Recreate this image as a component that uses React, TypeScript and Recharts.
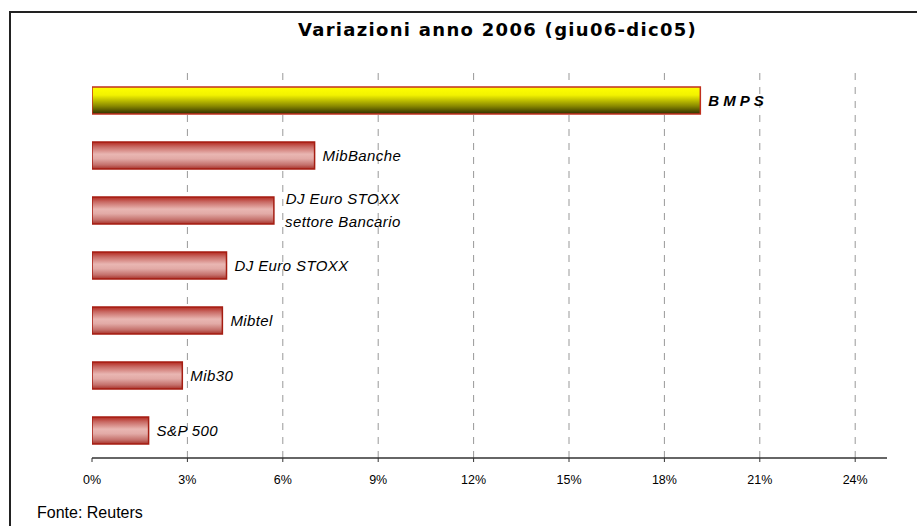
import React from 'react';
import { BarChart, Bar, XAxis, YAxis, CartesianGrid, Cell, LabelList } from 'recharts';

const names = [
  'BMPS',
  'MibBanche',
  'DJ Euro STOXX settore Bancario',
  'DJ Euro STOXX',
  'Mibtel',
  'Mib30',
  'S&P 500',
];
const values = [19.13, 7.0, 5.72, 4.23, 4.1, 2.84, 1.78];
const ticks = [0, 3, 6, 9, 12, 15, 18, 21, 24];

const data = names.map((name, i) => ({ name, value: values[i] }));

const FONT = '"Liberation Sans", Arial, sans-serif';

const BarLabel = (props: any) => {
  const { x, y, width, height, value } = props;
  const lx = Number(x) + Number(width) + 8;
  const cy = Number(y) + Number(height) / 2;
  if (value === 'BMPS') {
    return (
      <text x={lx} y={cy} dy="0.35em" fontFamily={FONT} fontSize={15} fontStyle="italic"
        fontWeight="bold" letterSpacing={4} fill="#000">
        {value}
      </text>
    );
  }
  if (value === 'DJ Euro STOXX settore Bancario') {
    const mid = lx + 61;
    return (
      <text x={mid} y={cy} fontFamily={FONT} fontSize={15} fontStyle="italic" fill="#000"
        textAnchor="middle" letterSpacing={0.4}>
        <tspan x={mid} y={cy - 11.5} dy="0.35em">DJ Euro STOXX</tspan>
        <tspan x={mid} y={cy + 11.5} dy="0.35em">settore Bancario</tspan>
      </text>
    );
  }
  return (
    <text x={lx} y={cy} dy="0.35em" fontFamily={FONT} fontSize={15} fontStyle="italic"
      letterSpacing={0.4} fill="#000">
      {value}
    </text>
  );
};

const App: React.FC = () => {
  return (
    <div style={{ position: 'absolute', left: 0, top: 0, width: 917, height: 526, overflow: 'hidden', background: '#fff' }}>
      <div style={{ position: 'absolute', left: 9, top: 11, width: 1000, height: 1000, borderLeft: '2px solid #222', borderTop: '2px solid #222' }} />
      <div style={{ position: 'absolute', left: 298, top: 19, fontFamily: '"DejaVu Sans", Verdana, sans-serif', fontWeight: 'bold', fontSize: 18, letterSpacing: 1.3, whiteSpace: 'nowrap', color: '#000' }}>
        Variazioni anno 2006 (giu06-dic05)
      </div>
      <div style={{ position: 'absolute', left: 37, top: 504, fontFamily: FONT, fontSize: 16, lineHeight: '18px', whiteSpace: 'nowrap', color: '#000' }}>
        Fonte: Reuters
      </div>
      <div style={{ position: 'absolute', left: 0, top: 0 }}>
        <BarChart width={917} height={526} data={data} layout="vertical"
          margin={{ top: 73, right: 30, left: 92, bottom: 38 }}>
          <defs>
            <linearGradient id="gYellow" x1="0" y1="0" x2="0" y2="1">
              <stop offset="0%" stopColor="#ffff00" />
              <stop offset="30%" stopColor="#f2f200" />
              <stop offset="70%" stopColor="#8a8a00" />
              <stop offset="100%" stopColor="#2e2e00" />
            </linearGradient>
            <linearGradient id="gRed" x1="0" y1="0" x2="0" y2="1">
              <stop offset="0%" stopColor="#b3281e" />
              <stop offset="18%" stopColor="#c96a64" />
              <stop offset="45%" stopColor="#e9b6b2" />
              <stop offset="62%" stopColor="#e2aaa6" />
              <stop offset="85%" stopColor="#c4706b" />
              <stop offset="100%" stopColor="#a83028" />
            </linearGradient>
          </defs>
          <CartesianGrid horizontal={false} stroke="#999" strokeDasharray="7 7"
            verticalValues={ticks.slice(1)} />
          <XAxis type="number" domain={[0, 25]} ticks={ticks} allowDataOverflow
            tickFormatter={(v) => `${v}%`} height={30}
            axisLine={{ stroke: '#333', strokeWidth: 1.5 }}
            tickLine={{ stroke: '#333' }} tickSize={4} tickMargin={13}
            tick={{ fontFamily: FONT, fontSize: 12.5, fill: '#000' }} />
          <YAxis type="category" dataKey="name" width={0} tick={false} tickLine={false}
            axisLine={{ stroke: '#666', strokeWidth: 1.5 }} />
          <Bar dataKey="value" barSize={27} isAnimationActive={false} stroke="#a51d12" strokeWidth={1.5}>
            {data.map((d, i) => (
              <Cell key={d.name} fill={i === 0 ? 'url(#gYellow)' : 'url(#gRed)'} stroke={i === 0 ? '#c0301e' : '#a51d12'} />
            ))}
            <LabelList dataKey="name" content={BarLabel} />
          </Bar>
        </BarChart>
      </div>
    </div>
  );
};

export default App;
